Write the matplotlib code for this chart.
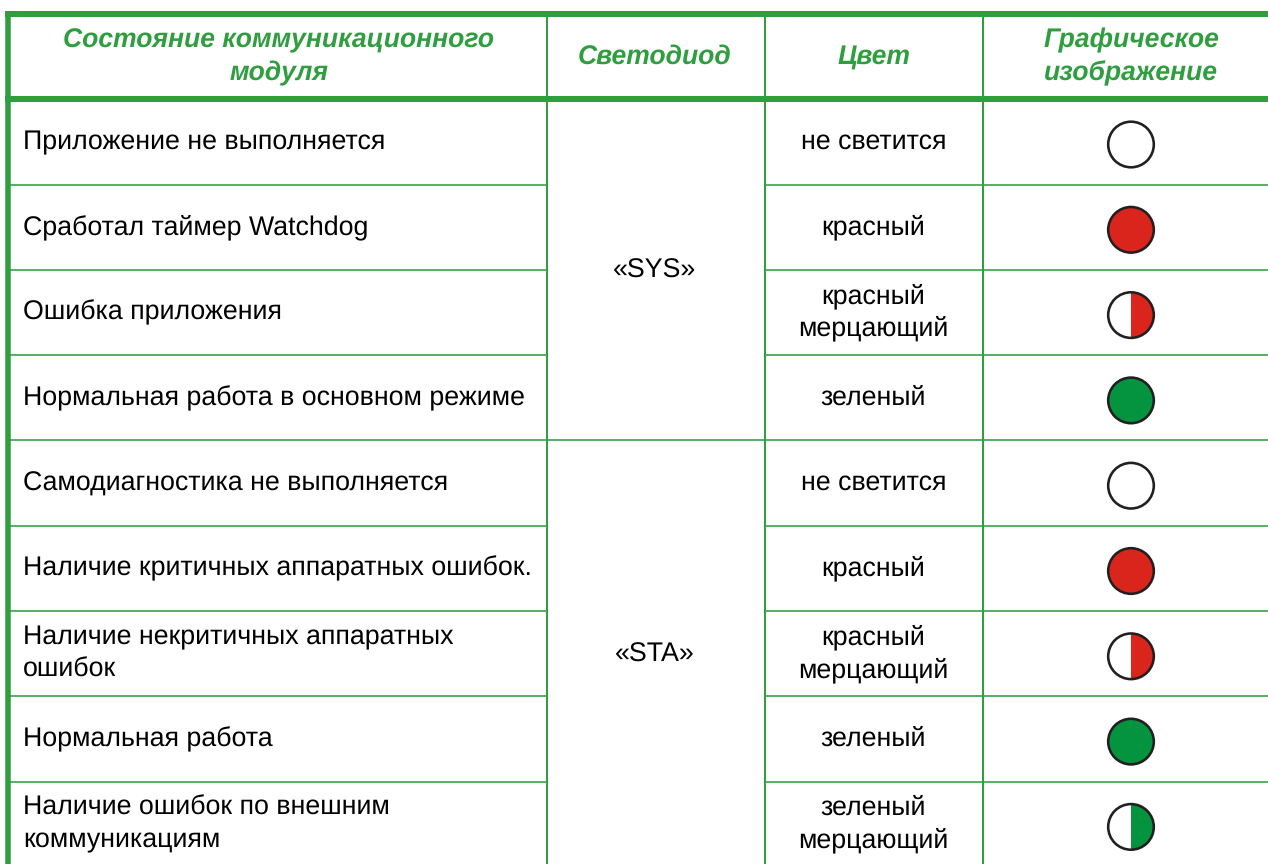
import matplotlib
matplotlib.use('Agg')
import matplotlib.pyplot as plt
from matplotlib.patches import Circle, Wedge

plt.rcParams['font.family'] = ['Liberation Sans', 'DejaVu Sans']
plt.rcParams['text.hinting'] = 'no_hinting'

headers = ['Состояние коммуникационного\nмодуля', 'Светодиод', 'Цвет', 'Графическое\nизображение']
states = [
    'Приложение не выполняется',
    'Сработал таймер Watchdog',
    'Ошибка приложения',
    'Нормальная работа в основном режиме',
    'Самодиагностика не выполняется',
    'Наличие критичных аппаратных ошибок.',
    'Наличие некритичных аппаратных\nошибок',
    'Нормальная работа',
    'Наличие ошибок по внешним\nкоммуникациям',
]
colour_names = [
    'не светится', 'красный', 'красный\nмерцающий', 'зеленый',
    'не светится', 'красный', 'красный\nмерцающий', 'зеленый',
    'зеленый\nмерцающий',
]
# off / full / half for each lamp
lamp_mode = ['off', 'full', 'half', 'full', 'off', 'full', 'half', 'full', 'half']
lamp_colour = [None, 'red', 'red', 'green', None, 'red', 'red', 'green', 'green']
leds = ['«SYS»', '«STA»']
led_rows = [(0, 3), (4, 8)]

GREEN = '#2f9e3f'
RED = '#da251c'
LAMP_GREEN = '#04933f'
EDGE = '#231f20'
fills = {'red': RED, 'green': LAMP_GREEN}

W, H = 1268, 864
col_x = [546.5, 765, 983]
col_mid = [None, 654.5, 873.5, 1131]
head_mid = [279, 655, 874, 1131]
step = 85.3
line0 = 184.5
lamp0 = 144.5
base0 = 149
gap = 32.5
px = 0.72  # pixels to points at dpi 100
body_size = 26.8 * px


def put_lines(ax, x, y, s, **kw):
    parts = s.split('\n')
    start = y - gap * (len(parts) - 1) / 2
    for i, part in enumerate(parts):
        ax.text(x, start + i * gap, part, va='baseline', **kw)


fig = plt.figure(figsize=(12.68, 8.64), dpi=100)
ax = fig.add_axes([0, 0, 1, 1])
ax.set_xlim(0, W)
ax.set_ylim(H, 0)
ax.axis('off')

# grid
for x in col_x:
    ax.plot([x, x], [14, H], color=GREEN, lw=2 * px, solid_capstyle='butt')
for i in range(8):
    y = line0 + i * step
    if i == 3:
        ax.plot([8, W], [y, y], color=GREEN, lw=1.6 * px, solid_capstyle='butt')
    else:
        ax.plot([8, col_x[0]], [y, y], color=GREEN, lw=1.6 * px, solid_capstyle='butt')
        ax.plot([col_x[1], W], [y, y], color=GREEN, lw=1.6 * px, solid_capstyle='butt')
ax.plot([5, W], [14, 14], color=GREEN, lw=6 * px, solid_capstyle='butt')
ax.plot([5, W], [99, 99], color=GREEN, lw=6 * px, solid_capstyle='butt')
ax.plot([7.5, 7.5], [11, H], color=GREEN, lw=5.5 * px, solid_capstyle='butt')

# header
for x, h in zip(head_mid, headers):
    put_lines(ax, x, 64, h, ha='center', color=GREEN, fontsize=26.5 * px,
              fontweight='bold', fontstyle='italic')

# rows
for i in range(len(states)):
    y = base0 + i * step
    put_lines(ax, 23, y, states[i], ha='left', color='black', fontsize=body_size)
    put_lines(ax, col_mid[2], y, colour_names[i], ha='center', color='black', fontsize=body_size)

    cy = lamp0 + i * step
    cx = col_mid[3]
    r = 22.8
    if lamp_mode[i] == 'full':
        ax.add_patch(Circle((cx, cy), r, facecolor=fills[lamp_colour[i]], edgecolor=EDGE, lw=2.6 * px))
    else:
        ax.add_patch(Circle((cx, cy), r, facecolor='white', edgecolor='none'))
        if lamp_mode[i] == 'half':
            ax.add_patch(Wedge((cx, cy), r, -90, 90, facecolor=fills[lamp_colour[i]], edgecolor='none'))
        ax.add_patch(Circle((cx, cy), r, facecolor='none', edgecolor=EDGE, lw=2.6 * px))

# merged LED cells
for name, (a, b) in zip(leds, led_rows):
    y = base0 + (a + b) / 2 * step + 1
    ax.text(col_mid[1], y, name, ha='center', va='baseline', color='black', fontsize=body_size)

fig.savefig('out.png', dpi=100)
